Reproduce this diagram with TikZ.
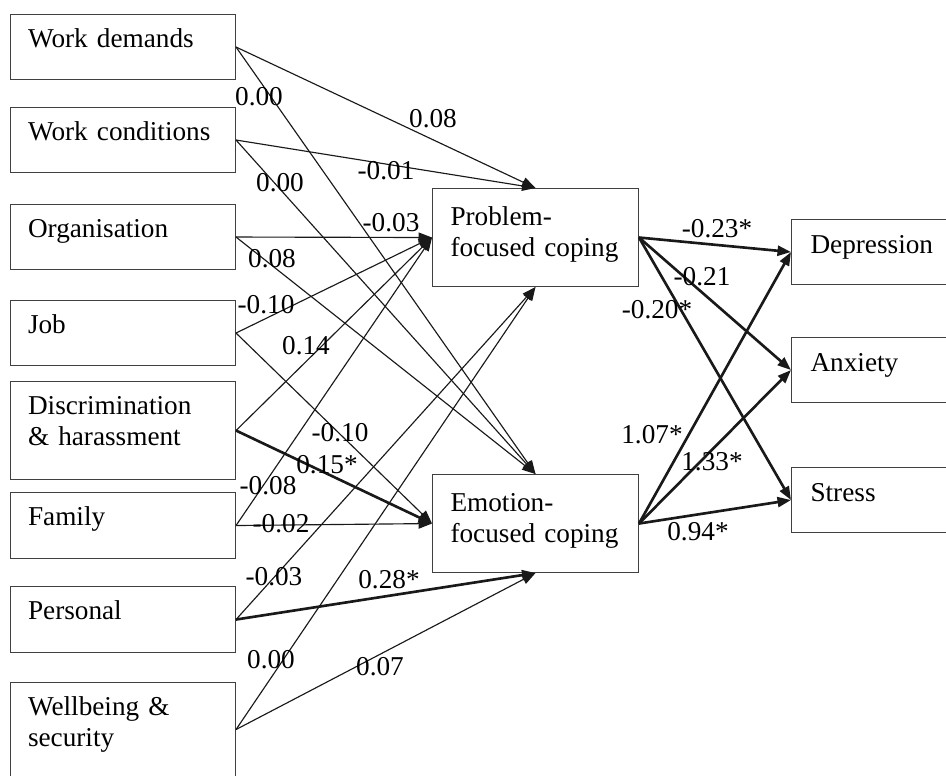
\documentclass[tikz,border=0pt]{standalone}
\usepackage{fontspec}
\setmainfont{Liberation Serif}
\usetikzlibrary{arrows.meta}

\tikzset{
	txt/.style={font=\fontsize{15.5}{17.6}\selectfont},
	factor/.style={txt, draw=black!75, line width=0.6pt, anchor=north west, inner xsep=0.35cm, inner ysep=0pt, text width=3.8cm, align=left, text height=0.66cm, text depth=#1},
	coping/.style={txt, draw=black!75, line width=0.6pt, anchor=north west, inner xsep=0.36cm, inner ysep=0pt, text width=3.4cm, align=left, text height=0.74cm, text depth=1.22cm},
	outcome/.style={txt, draw=black!75, line width=0.6pt, anchor=north west, inner xsep=0.38cm, inner ysep=0pt, text width=4cm, align=left, text height=0.68cm, text depth=0.62cm},
	link/.style={-{Triangle[length=0.27cm,width=0.2cm]}, line width=0.65pt, black!90},
	sig/.style={link, line width=1.5pt},
	coef/.style={txt, inner sep=0pt}
}

\begin{document}
\begin{tikzpicture}[x=0.02cm, y=-0.02cm]
	\useasboundingbox (0,0) rectangle (946,775);

	% stressors
	\node[factor=0.64cm] (wd) at (10,14) {Work demands};
	\node[factor=0.64cm] (wc) at (10,107) {Work conditions};
	\node[factor=0.64cm] (org) at (10,204) {Organisation};
	\node[factor=0.64cm] (job) at (10,300) {Job};
	\node[factor=1.3cm] (dh) at (10,381) {Discrimination\\\& harassment};
	\node[factor=0.66cm] (fam) at (10,492) {Family};
	\node[factor=0.66cm] (pers) at (10,586) {Personal};
	\node[factor=1.22cm] (wb) at (10,682) {Wellbeing \&\\security};

	% coping
	\node[coping] (pfc) at (432,188) {Problem-\\focused coping};
	\node[coping] (efc) at (432,474) {Emotion-\\focused coping};

	% outcomes
	\node[outcome] (dep) at (791,219) {Depression};
	\node[outcome] (anx) at (791,337) {Anxiety};
	\node[outcome] (str) at (791,467) {Stress};

	\draw[link] (wd.east) -- (pfc.north);
	\draw[link] (wd.east) -- (efc.north);
	\draw[link] (wc.east) -- (pfc.north);
	\draw[link] (wc.east) -- (efc.north);
	\draw[link] (org.east) -- (pfc.west);
	\draw[link] (org.east) -- (efc.north);
	\draw[link] (job.east) -- (pfc.west);
	\draw[link] (job.east) -- (efc.west);
	\draw[link] (dh.east) -- (pfc.west);
	\draw[sig] (dh.east) -- (efc.west);
	\draw[link] (fam.east) -- (pfc.west);
	\draw[link] (fam.east) -- (efc.west);
	\draw[link] (pers.east) -- (pfc.south);
	\draw[sig] (pers.east) -- (efc.south);
	\draw[link] (wb.east) -- (pfc.south);
	\draw[link] (wb.east) -- (efc.south);

	\draw[sig] (pfc.east) -- (dep.west);
	\draw[sig] (pfc.east) -- (anx.west);
	\draw[sig] (pfc.east) -- (str.west);
	\draw[sig] (efc.east) -- (dep.west);
	\draw[sig] (efc.east) -- (anx.west);
	\draw[sig] (efc.east) -- (str.west);

	% path coefficients
	\node[coef] (cwdp) at (433,119) {0.08};
	\node[coef] (cwde) at (259,97) {0.00};
	\node[coef] (cwcp) at (386,171) {-0.01};
	\node[coef] (cwce) at (280,183) {0.00};
	\node[coef] (corgp) at (391,223) {-0.03};
	\node[coef] (corge) at (272,259) {0.08};
	\node[coef] (cjobp) at (266,305) {-0.10};
	\node[coef] (cjobe) at (340,433) {-0.10};
	\node[coef] (cdhp) at (306,346) {0.14};
	\node[coef] (cdhe) at (327,465) {0.15*};
	\node[coef] (cfamp) at (268,486) {-0.08};
	\node[coef] (cfame) at (281,524) {-0.02};
	\node[coef] (cpersp) at (274,577) {-0.03};
	\node[coef] (cperse) at (389,580) {0.28*};
	\node[coef] (cwbp) at (271,660) {0.00};
	\node[coef] (cwbe) at (380,667) {0.07};

	\node[coef] (cpdep) at (717,229) {-0.23*};
	\node[coef] (cpanx) at (702,277) {-0.21};
	\node[coef] (cpstr) at (657,310) {-0.20*};
	\node[coef] (cedep) at (652,435) {1.07*};
	\node[coef] (ceanx) at (712,462) {1.33*};
	\node[coef] (cestr) at (698,532) {0.94*};
\end{tikzpicture}
\end{document}
